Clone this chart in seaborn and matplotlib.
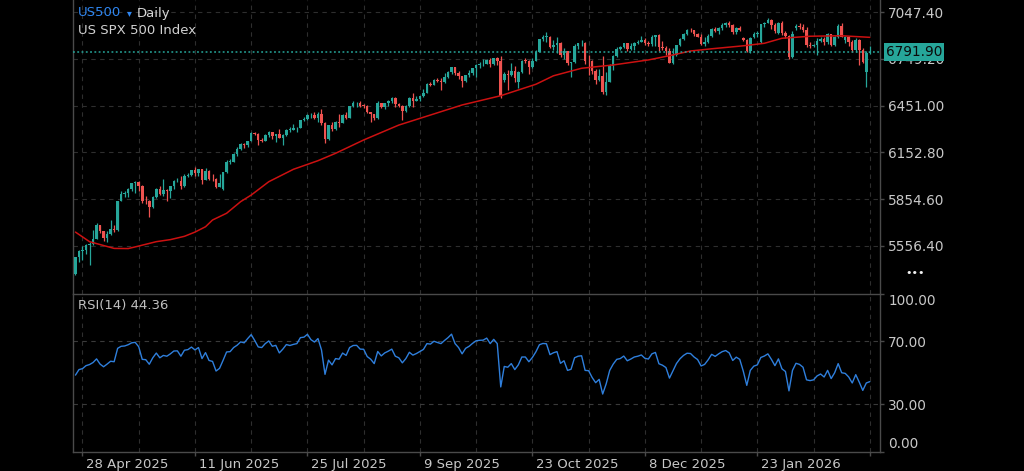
import numpy as np
import pandas as pd
import matplotlib
matplotlib.use("Agg")
import matplotlib.pyplot as plt
import matplotlib.transforms as mtransforms
import seaborn as sns

# ---------------- data ----------------
closed_days = ["2025-12-25", "2026-01-01"]
dates = pd.bdate_range("2025-04-24", "2026-03-10")
dates = dates[~dates.isin(pd.to_datetime(closed_days))]

opens = [5376,5485,5525,5529,5561,5569,5604,5687,5650,5607,
         5631,5664,5660,5844,5887,5893,5917,5958,5964,5940,
         5845,5842,5803,5870,5922,5889,5912,5906,5936,5970,
         5971,5939,6000,6006,6039,6022,6045,5977,6033,5983,
         5981,5935,5920,6025,6092,6092,6141,6173,6205,6198,
         6227,6279,6272,6230,6226,6263,6280,6260,6269,6244,
         6264,6297,6297,6306,6310,6359,6363,6389,6390,6371,
         6395,6339,6238,6330,6299,6345,6340,6389,6373,6446,
         6467,6469,6450,6449,6411,6396,6370,6467,6439,6466,
         6481,6502,6460,6450,6416,6448,6502,6482,6495,6513,
         6532,6587,6584,6615,6607,6600,6632,6664,6694,6657,
         6638,6605,6644,6661,6688,6711,6715,6716,6740,6715,
         6754,6735,6615,6650,6644,6671,6600,6664,6740,6735,
         6699,6738,6792,6875,6891,6891,6822,6840,6852,6772,
         6796,6720,6729,6832,6847,6851,6737,6734,6672,6617,
         6642,6539,6603,6705,6766,6813,6822,6849,6813,6829,
         6850,6857,6870,6847,6841,6887,6901,6827,6817,6800,
         6721,6775,6835,6878,6910,6932,6930,6907,6890,6845,
         6858,6894,6940,6926,6947,6966,6976,6962,6918,6944,
         6880,6870,6800,6885,6905,6858,6968,6980,6998,6965,
         6914,6977,6914,6895,6760,6945,6960,6952,6932,6837,
         6830,6836,6865,6878,6855,6905,6840,6885,6960,6868,
         6885,6855,6805,6870,6805,6665,6785]
highs = [5489,5528,5554,5566,5582,5659,5701,5690,5655,5655,
         5720,5692,5845,5907,5906,5924,5959,5969,5968,5945,
         5878,5850,5875,5925,5938,5985,5920,5937,5979,5990,
         6000,6017,6021,6043,6059,6046,6050,6051,6040,6018,
         5990,6018,6029,6102,6109,6147,6188,6215,6211,6228,
         6285,6285,6275,6243,6269,6290,6282,6270,6302,6269,
         6304,6316,6336,6312,6361,6381,6396,6401,6409,6410,
         6427,6345,6330,6346,6353,6395,6395,6409,6447,6480,
         6474,6481,6459,6457,6412,6400,6479,6470,6468,6485,
         6508,6505,6468,6455,6454,6503,6533,6512,6515,6556,
         6593,6600,6620,6627,6624,6656,6672,6695,6700,6673,
         6640,6648,6680,6689,6718,6732,6751,6750,6755,6757,
         6762,6765,6664,6680,6724,6706,6670,6744,6752,6741,
         6752,6807,6877,6900,6920,6895,6871,6885,6855,6819,
         6802,6732,6841,6850,6869,6855,6775,6740,6683,6682,
         6770,6665,6716,6776,6824,6830,6853,6850,6851,6856,
         6866,6895,6880,6862,6900,6904,6905,6860,6829,6815,
         6820,6840,6880,6912,6937,6945,6935,6915,6905,6885,
         6905,6945,6955,6950,6975,6985,6990,6968,6955,6958,
         6890,6878,6890,6920,6925,6972,6985,7010,7000,6975,
         6985,6990,6925,6900,6925,6968,6975,6970,6950,6855,
         6845,6880,6890,6885,6915,6910,6895,6970,6975,6892,
         6895,6870,6880,6878,6815,6800,6830]
lows = [5371,5455,5469,5506,5433,5565,5600,5640,5591,5579,
        5625,5646,5655,5840,5868,5867,5907,5896,5909,5830,
        5826,5740,5800,5865,5880,5874,5843,5861,5921,5966,
        5921,5935,5994,6000,6002,6004,5950,5975,5975,5972,
        5928,5930,5915,6020,6080,6090,6133,6170,6178,6188,
        6225,6265,6201,6217,6225,6251,6238,6221,6242,6202,
        6260,6285,6295,6282,6308,6355,6360,6375,6365,6346,
        6326,6213,6232,6289,6295,6317,6338,6364,6370,6440,
        6441,6441,6437,6401,6344,6360,6365,6438,6432,6451,
        6466,6444,6440,6361,6410,6440,6443,6478,6483,6508,
        6530,6577,6580,6600,6551,6598,6630,6654,6643,6620,
        6570,6600,6635,6643,6632,6693,6706,6715,6699,6710,
        6711,6500,6600,6550,6640,6604,6560,6660,6722,6654,
        6689,6735,6790,6860,6854,6818,6804,6788,6762,6750,
        6708,6631,6725,6814,6832,6718,6646,6650,6590,6607,
        6522,6521,6600,6679,6760,6805,6815,6800,6807,6808,
        6841,6855,6837,6828,6830,6829,6800,6805,6775,6720,
        6715,6770,6830,6870,6903,6920,6895,6885,6840,6830,
        6850,6888,6920,6910,6935,6950,6955,6905,6910,6925,
        6860,6790,6785,6880,6890,6850,6955,6975,6940,6915,
        6905,6900,6880,6750,6755,6930,6940,6920,6825,6815,
        6825,6773,6855,6840,6845,6830,6830,6880,6885,6850,
        6830,6790,6795,6710,6720,6570,6780]
closes = [5485,5525,5529,5561,5569,5604,5687,5650,5607,5631,
          5664,5660,5844,5887,5893,5917,5958,5964,5940,5845,
          5842,5803,5870,5922,5889,5912,5906,5936,5970,5971,
          5939,6000,6006,6039,6022,6045,5977,6033,5983,5981,
          5935,5955,6025,6092,6092,6141,6173,6205,6198,6227,
          6279,6272,6230,6226,6263,6280,6260,6269,6244,6264,
          6297,6297,6306,6310,6359,6363,6389,6390,6371,6395,
          6339,6238,6330,6299,6345,6340,6389,6373,6446,6467,
          6469,6450,6449,6411,6396,6370,6467,6439,6466,6481,
          6502,6460,6450,6416,6448,6502,6482,6495,6513,6532,
          6587,6584,6615,6607,6600,6632,6664,6694,6657,6638,
          6605,6644,6661,6688,6711,6715,6716,6740,6715,6754,
          6735,6510,6650,6644,6671,6629,6664,6735,6735,6699,
          6738,6792,6875,6891,6891,6822,6840,6852,6772,6796,
          6720,6729,6832,6847,6851,6737,6734,6672,6617,6642,
          6539,6603,6705,6766,6813,6822,6849,6813,6829,6850,
          6857,6870,6847,6841,6887,6901,6827,6817,6800,6721,
          6775,6835,6878,6910,6932,6930,6907,6890,6845,6858,
          6894,6940,6926,6947,6966,6976,6962,6918,6944,6930,
          6870,6800,6880,6905,6913,6968,6980,6998,6965,6926,
          6977,6914,6895,6760,6910,6960,6952,6932,6837,6830,
          6836,6865,6878,6855,6905,6840,6885,6960,6890,6885,
          6855,6805,6870,6805,6730,6785,6792]

ma_dates = ["2025-04-24","2025-04-30","2025-05-09","2025-05-15","2025-05-20",
            "2025-05-27","2025-06-02","2025-06-06","2025-06-11","2025-06-16",
            "2025-06-18","2025-06-24","2025-06-30","2025-07-03","2025-07-10",
            "2025-07-21","2025-07-30","2025-08-06","2025-08-18","2025-09-01",
            "2025-09-25","2025-10-10","2025-10-24","2025-10-31","2025-11-12",
            "2025-11-25","2025-12-09","2025-12-17","2025-12-26","2026-01-06",
            "2026-01-19","2026-01-27","2026-02-03","2026-02-13","2026-02-26",
            "2026-03-10"]
ma_values = [5645,5584,5541,5540,5556,5584,5597,5618,5645,5679,
             5722,5765,5839,5881,5966,6045,6100,6147,6232,6327,
             6455,6514,6587,6641,6689,6710,6742,6769,6799,6813,
             6832,6848,6880,6893,6896,6886]

# RSI(14), one value per bar
rsi_values = [48.5,52,52.6,54.5,55.2,56.5,58.8,55.5,53.8,55.5,
              57.3,57,65.5,66.8,67,67.8,69,69.3,66.5,58.5,
              58.3,55.4,59.5,62.5,59.5,61,60.5,62,63.8,63.9,
              60.5,64.3,64.7,66.3,64.5,66,59,62.8,57.8,57.2,
              51.1,52.8,57.9,63.2,63.4,66,67.5,69.6,69,71.7,
              74.2,70.5,66.4,66,68.5,70.2,66.8,67.4,62.6,65,
              67.9,67.3,68,68.5,72.3,72.6,74.4,71,69.5,71.7,
              64.5,49,58,55,59,58.6,62.5,61,66,67.3,
              67.4,65,64.9,60.3,58.6,55.8,63.5,60.7,62.6,63.7,
              65,60.5,59.5,56.3,59,63,61.2,62.2,63.5,64.8,
              68.5,68.2,70,69.2,68.5,70.5,72.3,74.5,68.5,66,
              62,65.5,66.8,68.7,70.3,70.6,70.7,72,68.5,71.2,
              68.5,41,54,53.5,55.8,52,55,60,60,57,
              59.7,63.3,67.8,68.6,68.4,61.5,62.7,63.4,56,57.6,
              51.5,52.2,59.5,60.5,60.8,51.5,51.3,47,43.7,45.8,
              36.5,43,51.5,55.5,58.5,59,60.6,57.6,58.7,60,
              60.5,61.3,59.2,58.7,62,62.9,55.7,54.8,53.3,46.6,
              51.2,55.9,58.9,61,62.4,62.2,60,58.4,54.3,55.3,
              58.2,61.7,60.4,62,63.4,64.1,62.6,57.8,59.9,58.5,
              51,42,51.5,54.2,55,59.7,60.6,62,58.5,54.5,
              58.8,52.5,50.8,38.5,51.5,56,55.3,53.5,45.5,45,
              45.5,48,49.2,47.3,51.5,46.3,50,55.8,50,49.6,
              47.3,43.5,48.8,44,38.8,43.5,44.36]

price_ticks = [5556.40, 5854.60, 6152.80, 6451.00, 6749.20, 7047.40]
rsi_ticks = [0, 30, 70, 100]
date_ticks = ["2025-04-28", "2025-06-11", "2025-07-25", "2025-09-09",
              "2025-10-23", "2025-12-08", "2026-01-23", "2026-03-10"]
date_labels = ["28 Apr 2025", "11 Jun 2025", "25 Jul 2025", "9 Sep 2025",
               "23 Oct 2025", "8 Dec 2025", "23 Jan 2026", ""]
last_price = 6791.90
rsi_label = "RSI(14) 44.36"

# ---------------- styling ----------------
BG = "#000000"
UP = "#26a69a"
DOWN = "#ef5350"
MA_COLOR = "#cc1111"
RSI_COLOR = "#2f7fdc"
GRID = "#2e2e2e"
SPINE = "#4a4a4a"
TXT = "#c8c8c8"

sns.set_theme(style="dark", rc={
    "figure.facecolor": BG, "axes.facecolor": BG, "savefig.facecolor": BG,
    "axes.edgecolor": SPINE, "text.color": TXT,
    "xtick.color": TXT, "ytick.color": TXT,
})
plt.rcParams["font.family"] = ["DejaVu Sans"]

W, H = 1024, 471
fig = plt.figure(figsize=(W / 100, H / 100), dpi=100)
fig.patch.set_facecolor(BG)
L, R = 73, 880
ax = fig.add_axes([L / W, 1 - 294 / H, (R - L) / W, 294 / H])
axr = fig.add_axes([L / W, 1 - 451.5 / H, (R - L) / W, 157.5 / H], sharex=ax)
for a in (ax, axr):
    a.set_facecolor(BG)

df = pd.DataFrame({"date": dates, "open": opens, "high": highs,
                   "low": lows, "close": closes, "rsi": rsi_values})
df["pos"] = np.arange(len(df))
pos_of = dict(zip(df["date"].dt.strftime("%Y-%m-%d"), df["pos"]))

up = df["close"] >= df["open"]
colors = np.where(up, UP, DOWN)
body_lo = np.minimum(df["open"], df["close"])
body_h = np.maximum(np.abs(df["close"] - df["open"]), 3.0)

# grid
grid_pos = np.arange(pos_of["2025-04-28"], len(df) + 1, 16)
for a in (ax, axr):
    for gp in grid_pos:
        a.axvline(gp, color=GRID, lw=0.8, ls=(0, (4, 4)), zorder=0)
for t in price_ticks:
    ax.axhline(t, color=GRID, lw=0.8, ls=(0, (4, 4)), zorder=0)
for t in (30, 70):
    axr.axhline(t, color="#3a3a3a", lw=0.8, ls=(0, (4, 4)), zorder=0)

# candles
ax.vlines(df["pos"], df["low"], df["high"], color=colors, lw=0.9, zorder=2)
ax.bar(df["pos"], body_h, bottom=body_lo, width=0.72, color=colors,
       linewidth=0, zorder=3)

# moving average
ma_df = pd.DataFrame({"pos": [pos_of[d] for d in ma_dates], "ma": ma_values})
sns.lineplot(data=ma_df, x="pos", y="ma", ax=ax, color=MA_COLOR, lw=1.1, zorder=4)

# last price line
ax.axhline(last_price, color=UP, lw=1.1, ls=(0, (1.2, 1.6)), zorder=5)

# RSI
sns.lineplot(data=df, x="pos", y="rsi", ax=axr, color=RSI_COLOR, lw=1.0, zorder=4)

# limits
ax.set_xlim(-0.7, 228.9)
ax.set_ylim(5250.5, 7123.9)
axr.set_ylim(0, 100)

# axes cosmetics
for a in (ax, axr):
    a.grid(False)
    a.set_xlabel("")
    a.set_ylabel("")
    a.yaxis.tick_right()
    for s in a.spines.values():
        s.set_color(SPINE)
        s.set_linewidth(1.0)
ax.spines["top"].set_visible(False)
ax.spines["bottom"].set_visible(False)

ax.set_yticks(price_ticks)
ax.set_yticklabels([f"{t:.2f}" for t in price_ticks])
ax.tick_params(axis="y", which="both", right=True, left=False, length=3,
               width=1, color=SPINE, pad=3, labelsize=9.8, labelcolor=TXT)
ax.tick_params(axis="x", bottom=False, labelbottom=False)

axr.set_yticks(rsi_ticks)
axr.set_yticklabels([f"{t:.2f}" for t in rsi_ticks])
axr.tick_params(axis="y", right=True, left=False, length=3, width=1,
                color=SPINE, pad=3, labelsize=9.8, labelcolor=TXT)
for lbl, t in zip(axr.get_yticklabels(), rsi_ticks):
    if t == 100:
        lbl.set_va("top")
    elif t == 0:
        lbl.set_va("bottom")

axr.set_xticks([pos_of[d] for d in date_ticks])
axr.set_xticklabels(date_labels)
axr.tick_params(axis="x", bottom=True, length=3, width=1, color=SPINE,
                pad=2, labelsize=9.5, labelcolor=TXT)
shift = mtransforms.ScaledTranslation(4 / 100, 0, fig.dpi_scale_trans)
for lbl in axr.get_xticklabels():
    lbl.set_ha("left")
    lbl.set_transform(lbl.get_transform() + shift)

# last price box
ax.annotate(f"{last_price:.2f}", xy=(1, last_price),
            xycoords=("axes fraction", "data"), xytext=(6, 0),
            textcoords="offset pixels", ha="left", va="center",
            fontsize=9.8, color="#0a0a0a", annotation_clip=False, zorder=20,
            bbox=dict(boxstyle="square,pad=0.12", fc=UP, ec="none"))

# header texts
fig.text(78 / W, 1 - 13 / H, "US500", color="#2f86f0", fontsize=9.5, va="center", ha="left")
fig.text(127 / W, 1 - 13.5 / H, "\u25BE", color="#2f86f0", fontsize=7, va="center", ha="left")
fig.text(137 / W, 1 - 13 / H, "Daily", color="#d6d6d6", fontsize=9.5, va="center", ha="left")
fig.text(78 / W, 1 - 30 / H, "US SPX 500 Index", color="#d0d0d0", fontsize=9.5, va="center", ha="left")
fig.text(78 / W, 1 - 305.5 / H, rsi_label, color="#c0c0c0", fontsize=9.5, va="center", ha="left")
fig.text(915 / W, 1 - 273 / H, "\u2022\u2022\u2022", color="#f0f0f0", fontsize=8, va="center", ha="center")

fig.savefig("out.png", dpi=100, facecolor=BG)
